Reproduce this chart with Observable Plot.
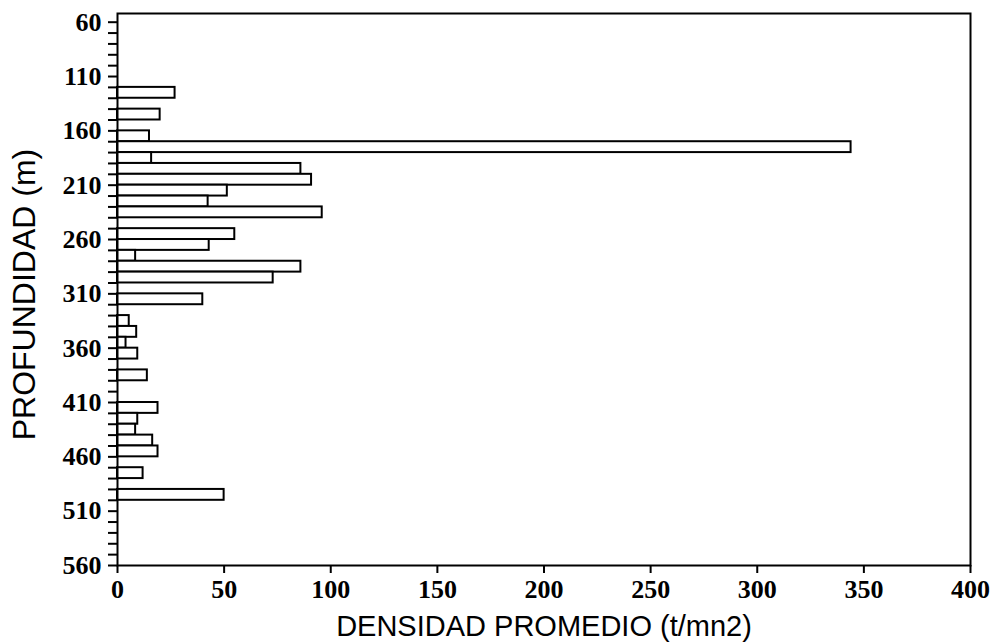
<!DOCTYPE html>
<html>
<head>
<meta charset="utf-8">
<script src="https://cdn.jsdelivr.net/npm/d3@7"></script>
<script src="https://cdn.jsdelivr.net/npm/@observablehq/plot@0.6"></script>
<style>
  html, body { margin: 0; padding: 0; background: #fff; }
  #chart svg { display: block; }
  #chart g[aria-label="depth title"] text { letter-spacing: 5px; }
</style>
</head>
<body>
<div id="chart"></div>
<script>
// Upper edge (m) of each 10 m depth stratum that has a density estimate
const depthStart = [120, 140, 160, 170, 180, 190, 200, 210, 220, 230,
                    250, 260, 270, 280, 290, 310, 330, 340, 350, 360,
                    380, 410, 420, 430, 440, 450, 470, 490];
// Mean density per stratum (t/mn2)
const density = [27, 20, 15, 344, 16, 86, 91, 51.5, 42.5, 96,
                 55, 43, 8.5, 86, 73, 40, 5.5, 9, 4, 9.5,
                 14, 19, 9.5, 8.5, 16.5, 19, 12, 50];
// Axis ticks
const depthTicks = d3.range(60, 561, 10);
const depthLabels = [60, 110, 160, 210, 260, 310, 360, 410, 460, 510, 560];
const densityTicks = [0, 50, 100, 150, 200, 250, 300, 350, 400];
const xTitle = "DENSIDAD PROMEDIO (t/mn2)";
const yTitle = "PROFUNDIDAD (m)";

const binSize = 10;
const rows = depthStart.map((d, i) => ({top: d, bottom: d + binSize, value: density[i]}));

const tickFont = {fontFamily: "Liberation Serif", fontWeight: "bold", fontSize: 26};
const titleFont = {fontFamily: "Liberation Sans", fontWeight: "normal"};

const chart = Plot.plot({
  width: 991,
  height: 644,
  marginTop: 13,
  marginBottom: 79,
  marginLeft: 117,
  marginRight: 21,
  style: {color: "black", background: "white"},
  x: {domain: [0, 400]},
  y: {domain: [52, 560], reverse: true},
  marks: [
    Plot.rectX(rows, {x1: 0, x2: "value", y1: "top", y2: "bottom",
                      fill: "white", stroke: "black", strokeWidth: 2}),
    Plot.frame({stroke: "black", strokeWidth: 2}),
    Plot.axisY({ticks: depthTicks, tickSize: 9, tickPadding: 7, label: null,
                tickFormat: d => depthLabels.includes(d) ? String(d) : "",
                strokeWidth: 2, ...tickFont}),
    Plot.axisX({ticks: densityTicks, tickSize: 8, tickPadding: 6, label: null,
                tickFormat: d => String(d), strokeWidth: 2, ...tickFont}),
    Plot.text([xTitle], {text: d => d, frameAnchor: "bottom", dy: 61,
                         lineAnchor: "middle", textAnchor: "middle",
                         fontSize: 29, ...titleFont}),
    Plot.text([yTitle], {text: d => d, frameAnchor: "left", dx: -93, dy: 5, rotate: -90,
                         lineAnchor: "middle", textAnchor: "middle",
                         fontSize: 32, ariaLabel: "depth title", ...titleFont})
  ]
});
document.getElementById("chart").append(chart);
</script>
</body>
</html>
